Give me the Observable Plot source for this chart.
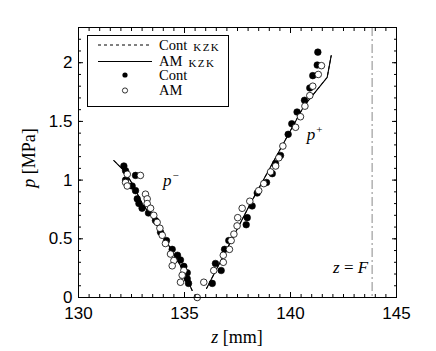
<!DOCTYPE html>
<html><head><meta charset="utf-8">
<script src="https://cdn.jsdelivr.net/npm/d3@7"></script>
<script src="https://cdn.jsdelivr.net/npm/@observablehq/plot@0.6"></script>
<style>body{margin:0;background:#fff}</style>
</head><body><div id="chart"></div>
<script>
// Experimental points: Cont (filled) and AM (open)
const contZ = [132.14,132.22,132.69,132.22,132.53,132.69,132.77,132.85,133.00,133.30,133.63,133.87,134.15,134.42,134.67,134.81,134.97,135.13,135.13,135.19,
  136.31,136.73,136.46,136.89,137.09,137.91,137.96,138.19,138.43,138.87,139.14,139.29,139.53,139.89,140.06,140.31,140.66,140.91,141.05,141.26,141.29];
const contP = [1.12,1.08,1.04,1.00,0.95,0.91,0.84,0.80,0.76,0.72,0.655,0.556,0.485,0.41,0.36,0.32,0.265,0.21,0.16,0.12,
  0.12,0.23,0.29,0.41,0.485,0.62,0.68,0.78,0.89,0.98,1.055,1.14,1.21,1.39,1.48,1.58,1.68,1.785,1.89,1.98,2.09];
const amZ = [132.30,132.92,132.22,132.30,133.16,133.24,133.24,133.40,133.55,133.71,133.84,133.95,134.10,134.34,134.50,134.42,134.97,134.89,134.81,135.60,
  135.91,136.38,136.83,136.83,137.12,137.20,137.33,137.48,137.51,137.72,138.08,138.50,138.74,139.06,139.30,139.45,139.64,140.24,140.47,140.68,140.91,141.05,141.31,141.46];
const amP = [1.05,1.04,0.98,0.95,0.88,0.84,0.80,0.76,0.70,0.64,0.59,0.53,0.46,0.37,0.315,0.27,0.23,0.19,0.13,0.00,
  0.13,0.23,0.30,0.36,0.41,0.485,0.54,0.61,0.68,0.76,0.82,0.91,0.97,1.07,1.12,1.19,1.29,1.45,1.54,1.63,1.72,1.80,1.90,1.975];
// KZK simulations (two branches each)
const amKzkBranch = [1,1,1,1,1,1,1,1,1, 2,2,2,2,2];
const amKzkZ = [131.67,132.2,132.6,133.0,133.5,134.0,134.5,135.0,135.36, 136.04,138.11,140.63,141.73,141.92];
const amKzkP = [1.166,1.07,0.95,0.80,0.68,0.52,0.37,0.21,0.06, 0.077,0.80,1.63,1.875,2.06];
const contKzkBranch = [1,1,1,1,1,1,1,1,1, 2,2,2,2,2];
const contKzkZ = [131.67,132.2,132.6,133.0,133.5,134.0,134.5,135.0,135.36, 136.04,138.11,140.63,141.73,141.92];
const contKzkP = [1.166,1.07,0.95,0.80,0.68,0.52,0.37,0.21,0.06, 0.077,0.80,1.63,1.875,2.06];
// focal position
const focusZ = [143.85];
// ticks
const xTicks = [130,135,140,145];
const yTicks = [0,0.5,1,1.5,2];
const xMinor = d3.range(130, 145.001, 0.5);
const yMinor = d3.range(0, 2.3001, 0.1);
// annotation anchors (data coordinates)
const annPminus = [134.01, 0.945];
const annPplus = [140.79, 1.336];
const annZF = [142.03, 0.204];

const cont = contZ.map((z,i)=>({z, p: contP[i]}));
const am = amZ.map((z,i)=>({z, p: amP[i]}));
const amKzk = amKzkZ.map((z,i)=>({z, p: amKzkP[i], b: amKzkBranch[i]}));
const contKzk = contKzkZ.map((z,i)=>({z, p: contKzkP[i], b: contKzkBranch[i]}));

const serif = "'Liberation Serif', 'Times New Roman', serif";
const blank = () => "";

const chart = Plot.plot({
  width: 436, height: 351,
  marginTop: 27, marginRight: 40, marginBottom: 54, marginLeft: 78,
  x: {domain: [130, 145]},
  y: {domain: [0, 2.3]},
  style: {fontFamily: "'Liberation Sans', Arial, sans-serif", fontSize: "17px", color: "black", background: "white"},
  marks: [
    Plot.ruleX(focusZ, {stroke: "#8a8a8a", strokeWidth: 1, strokeDasharray: "9,3,2,3"}),
    Plot.line(contKzk, {x: "z", y: "p", z: "b", stroke: "black", strokeWidth: 1, strokeDasharray: "3,3"}),
    Plot.line(amKzk, {x: "z", y: "p", z: "b", stroke: "black", strokeWidth: 1.1}),
    Plot.dot(cont, {x: "z", y: "p", r: 3.3, fill: "black", stroke: "black", strokeWidth: 0.6}),
    Plot.dot(am, {x: "z", y: "p", r: 3.3, fill: "white", stroke: "black", strokeWidth: 0.8}),
    Plot.frame({stroke: "black", strokeWidth: 1}),
    Plot.axisX({ticks: xTicks, tickSize: 0, tickPadding: 9, label: null, tickFormat: d => String(d)}),
    Plot.axisY({ticks: yTicks, tickSize: 0, tickPadding: 6, label: null, tickFormat: d => String(d)}),
    Plot.axisX({ticks: xTicks, anchor: "bottom", tickSize: -5, label: null, tickFormat: blank}),
    Plot.axisX({ticks: xMinor, anchor: "bottom", tickSize: -3, label: null, tickFormat: blank}),
    Plot.axisX({ticks: xTicks, anchor: "top", tickSize: -5, label: null, tickFormat: blank}),
    Plot.axisX({ticks: xMinor, anchor: "top", tickSize: -3, label: null, tickFormat: blank}),
    Plot.axisY({ticks: yTicks, anchor: "left", tickSize: -5, label: null, tickFormat: blank}),
    Plot.axisY({ticks: yMinor, anchor: "left", tickSize: -3, label: null, tickFormat: blank}),
    Plot.axisY({ticks: yTicks, anchor: "right", tickSize: -5, label: null, tickFormat: blank}),
    Plot.axisY({ticks: yMinor, anchor: "right", tickSize: -3, label: null, tickFormat: blank})
  ]
});
document.getElementById("chart").appendChild(chart);

const X = chart.scale("x"), Y = chart.scale("y");
const svg = d3.select(chart);

// annotations
function mathText(x, y, parts, size, anchor = "start") {
  const t = svg.append("text").attr("x", x).attr("y", y)
    .attr("text-anchor", anchor)
    .attr("font-family", serif).attr("font-size", size).attr("fill", "black");
  parts.forEach(p => {
    const s = t.append("tspan").text(p.t);
    if (p.i) s.attr("font-style", "italic");
    if (p.s) s.attr("font-size", p.s);
    if (p.dy) s.attr("dy", p.dy);
    if (p.dx) s.attr("dx", p.dx);
  });
  return t;
}
mathText(X.apply(annPminus[0]), Y.apply(annPminus[1]), [{t: "p", i: 1}, {t: "\u2212", s: 11, dy: -7, dx: 1}], 17);
mathText(X.apply(annPplus[0]), Y.apply(annPplus[1]), [{t: "p", i: 1}, {t: "+", s: 11, dy: -7, dx: 1}], 17);
mathText(X.apply(annZF[0]), Y.apply(annZF[1]), [{t: "z", i: 1}, {t: " = "}, {t: "F", i: 1}], 17);

// axis labels
mathText(237, 343, [{t: "z", i: 1}, {t: " [mm]"}], 18, "middle");
mathText(0, 0, [{t: "p", i: 1}, {t: " [MPa]"}], 18, "middle")
  .attr("transform", "translate(35,158) rotate(-90)");

// legend
const lg = svg.append("g");
lg.append("rect").attr("x", 87.5).attr("y", 35.5).attr("width", 141).attr("height", 71)
  .attr("fill", "white").attr("stroke", "black").attr("stroke-width", 1);
lg.append("line").attr("x1", 98).attr("x2", 152).attr("y1", 45).attr("y2", 45)
  .attr("stroke", "black").attr("stroke-dasharray", "3,3");
lg.append("line").attr("x1", 98).attr("x2", 152).attr("y1", 61.5).attr("y2", 61.5)
  .attr("stroke", "black").attr("stroke-width", 1.1);
lg.append("circle").attr("cx", 125).attr("cy", 75).attr("r", 2.6).attr("fill", "black");
lg.append("circle").attr("cx", 125).attr("cy", 90.5).attr("r", 2.6).attr("fill", "white").attr("stroke", "black").attr("stroke-width", 0.8);
const legRow = (y, main, sub) => {
  const t = lg.append("text").attr("x", 159).attr("y", y).attr("text-anchor", "start")
    .attr("font-family", serif).attr("font-size", 14.5).attr("fill", "black").text(main);
  if (sub) t.append("tspan").attr("dx", 6).attr("dy", 1).attr("font-size", 11).attr("letter-spacing", 1.5).text(sub);
};
legRow(49.5, "Cont", "KZK");
legRow(65.5, "AM", "KZK");
legRow(80, "Cont");
legRow(95, "AM");
</script>
</body></html>
